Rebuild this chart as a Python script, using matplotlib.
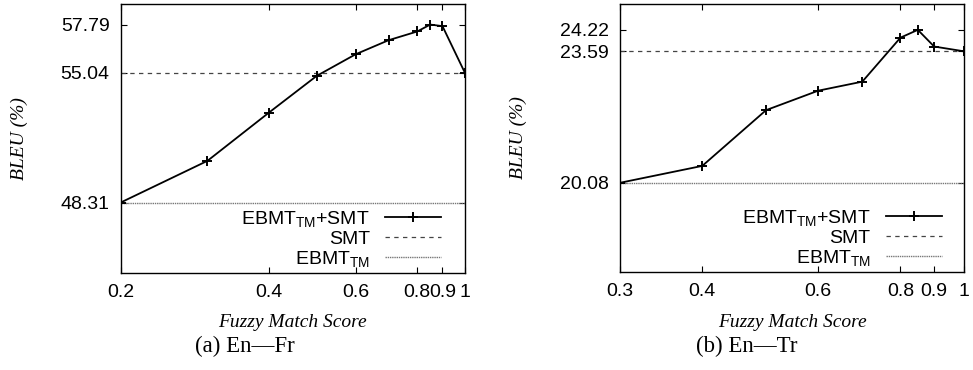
import matplotlib
matplotlib.use("Agg")
import matplotlib.pyplot as plt

# fonts: Helvetica-like for ticks/legend, Times italic for axis labels
plt.rcParams['font.family'] = ['Liberation Sans', 'DejaVu Sans']
plt.rcParams['mathtext.fontset'] = 'custom'
plt.rcParams['mathtext.rm'] = 'Liberation Sans'
plt.rcParams['mathtext.it'] = 'Liberation Sans'

# (a) En-Fr
fr_score = [0.2, 0.3, 0.4, 0.5, 0.6, 0.7, 0.8, 0.85, 0.9, 1.0]
fr_combined = [48.31, 50.38, 52.89, 54.88, 56.09, 56.89, 57.39, 57.79, 57.70, 55.04]
fr_smt = 55.04
fr_ebmt = 48.31
fr_xticks = [0.2, 0.4, 0.6, 0.8, 0.9, 1.0]
fr_xlabels = ['0.2', '0.4', '0.6', '0.8', '0.9', '1']
fr_yticks = [48.31, 55.04, 57.79]
fr_ylim = (45, 59)

# (b) En-Tr
tr_score = [0.3, 0.4, 0.5, 0.6, 0.7, 0.8, 0.85, 0.9, 1.0]
tr_combined = [20.08, 20.50, 21.95, 22.48, 22.73, 23.99, 24.22, 23.73, 23.59]
tr_smt = 23.59
tr_ebmt = 20.08
tr_xticks = [0.3, 0.4, 0.6, 0.8, 0.9, 1.0]
tr_xlabels = ['0.3', '0.4', '0.6', '0.8', '0.9', '1']
tr_yticks = [20.08, 23.59, 24.22]
tr_ylim = (18, 25)

W, H = 973, 370
fig = plt.figure(figsize=(W / 100, H / 100), dpi=100)
ax1 = fig.add_axes([120.7 / W, (H - 273) / H, 344.3 / W, 269 / H])
ax2 = fig.add_axes([620 / W, (H - 272) / H, 344.3 / W, 268 / H])

serif = ['Liberation Serif', 'DejaVu Serif']


def draw(ax, x, y, smt, ebmt, xticks, xlabels, yticks, ylim, leg_x):
    ax.set_xscale('log')
    ax.set_yscale('log')
    ax.plot(x, y, color='black', lw=1.3, marker='+', ms=7, mew=1.4,
            label=r'EBMT$_{\rm TM}$+SMT', zorder=3)
    ax.axhline(smt, color='#444444', lw=0.9, ls=(0, (3.5, 3.5)), label='SMT')
    ax.axhline(ebmt, color='#777777', lw=1.0, ls=(0, (1, 0.6)), label=r'EBMT$_{\rm TM}$')
    ax.set_xlim(x[0], x[-1])
    ax.set_ylim(*ylim)
    ax.set_xticks(xticks, xlabels)
    ax.set_yticks(yticks, ['%.2f' % v for v in yticks])
    ax.minorticks_off()
    ax.tick_params(direction='in', length=4, width=0.8, labelsize=14,
                   top=True, right=True, pad=8)
    for s in ax.spines.values():
        s.set_linewidth(1.0)
    ax.set_ylabel('BLEU (%)', family=serif, style='italic', fontsize=14)
    ax.yaxis.set_label_coords(-0.27, 0.5)
    leg = ax.legend(loc='lower right', bbox_to_anchor=(leg_x, 0.014),
                    frameon=False, markerfirst=False, alignment='right',
                    fontsize=14, handlelength=2.85, handletextpad=0.8,
                    labelspacing=0.08, borderpad=0, borderaxespad=0)
    return leg


draw(ax1, fr_score, fr_combined, fr_smt, fr_ebmt, fr_xticks, fr_xlabels,
     fr_yticks, fr_ylim, 0.93)
draw(ax2, tr_score, tr_combined, tr_smt, tr_ebmt, tr_xticks, tr_xlabels,
     tr_yticks, tr_ylim, 0.934)

# axis titles and captions
fig.text(292.7 / W, 1 - 322.7 / H, 'Fuzzy Match Score', family=serif,
         style='italic', fontsize=14, ha='center', va='center')
fig.text(792 / W, 1 - 322.7 / H, 'Fuzzy Match Score', family=serif,
         style='italic', fontsize=14, ha='center', va='center')
fig.text(245 / W, 1 - 346 / H, '(a) En\u2014Fr', family=serif,
         fontsize=16.5, ha='center', va='center')
fig.text(746.5 / W, 1 - 346 / H, '(b) En\u2014Tr', family=serif,
         fontsize=16.5, ha='center', va='center')

fig.savefig('out.png', dpi=100)
